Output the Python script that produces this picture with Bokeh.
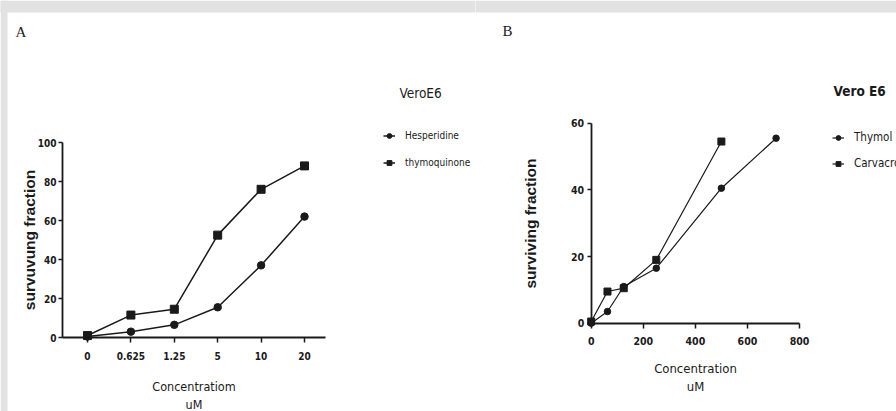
from bokeh.plotting import figure
from bokeh.models import Legend, LegendItem, Label, Range1d, FixedTicker, BoxAnnotation
from bokeh.layouts import row
from bokeh.embed import file_html
from bokeh.resources import INLINE

# ---- Panel A data ----
conc_a = ["0", "0.625", "1.25", "5", "10", "20"]
hesperidine = [0.5, 3, 6.5, 15.5, 37, 62]
thymoquinone = [1, 11.5, 14.5, 52.5, 76, 88]
ticks_a_y = [0, 20, 40, 60, 80, 100]

# ---- Panel B data ----
conc_thymol = [0, 62.5, 125, 250, 500, 710]
thymol = [0, 3.5, 11, 16.5, 40.5, 55.5]
conc_carvacrol = [0, 62.5, 125, 250, 500]
carvacrol = [0.5, 9.5, 10.5, 19, 54.5]
ticks_b_x = [0, 200, 400, 600, 800]
ticks_b_y = [0, 20, 40, 60]

NARROW = "DejaVu Sans Condensed, Liberation Sans, sans-serif"
SANS = "Liberation Sans, Arial, sans-serif"
SERIF = "Liberation Serif, serif"
INK = "#1a1a1a"
BAND = "#e2e2e2"

H = 411          # canvas height
WA, WB = 475, 421


def lin(pa, va, pb, vb):
    """linear map pixel->value from two anchor points"""
    k = (vb - va) / (pb - pa)
    return lambda px: va + (px - pa) * k


def style_axes(p, tick_size):
    for ax in (p.xaxis[0], p.yaxis[0]):
        ax.axis_line_color = INK
        ax.axis_line_width = 1.8
        ax.major_tick_line_color = INK
        ax.major_tick_line_width = 1.5
        ax.major_tick_in = 0
        ax.minor_tick_line_color = None
        ax.major_label_text_font = NARROW
        ax.major_label_text_font_style = "bold"
        ax.major_label_text_font_size = tick_size
        ax.major_label_text_color = INK
        ax.axis_label_text_color = INK
    p.xaxis.axis_label_text_font = NARROW
    p.xaxis.axis_label_text_font_style = "normal"
    p.xaxis.axis_label_text_font_size = "13px"
    p.yaxis.axis_label_text_font = SANS
    p.yaxis.axis_label_text_font_style = "bold"
    p.yaxis.axis_label_text_font_size = "15.5px"
    p.xgrid.grid_line_color = None
    p.ygrid.grid_line_color = None
    p.outline_line_color = None
    p.min_border_left = p.min_border_right = p.min_border_top = p.min_border_bottom = 0
    p.background_fill_color = "white"
    p.border_fill_color = "white"


def add_legend(p, items, left, first_center, gap, standoff, font_size):
    # legend tuple location is the legend's bottom-left corner, measured from frame bottom-left
    gh = 15
    n = len(items)
    total_h = n * gh + (n - 1) * gap
    top = first_center - gh / 2
    leg = Legend(items=items, location=(left, H - top - total_h), border_line_color=None,
                 background_fill_alpha=0, padding=0, margin=0, spacing=gap, glyph_width=12,
                 glyph_height=gh, label_height=gh, label_standoff=standoff,
                 label_text_font=NARROW, label_text_font_size=font_size, label_text_color=INK)
    p.add_layout(leg, "center")


# ================= Panel A =================
idx_a = list(range(len(conc_a)))
fxA = lin(87, 0, 304, 5)
fyA = lin(337, 0, 142, 100)
pA = figure(width=WA, height=H, output_backend="svg", toolbar_location=None,
            x_range=Range1d(fxA(0), fxA(WA)), y_range=Range1d(fyA(H), fyA(0)))
style_axes(pA, "10px")
pA.xaxis.ticker = FixedTicker(ticks=idx_a)
pA.xaxis.major_label_overrides = {i: s for i, s in zip(idx_a, conc_a)}
pA.yaxis.ticker = FixedTicker(ticks=ticks_a_y)
pA.xaxis.fixed_location = 0
pA.yaxis.fixed_location = fxA(62)
pA.xaxis.bounds = (fxA(62), fxA(325))
pA.yaxis.bounds = (0, 100)
pA.xaxis.major_tick_out = 5
pA.yaxis.major_tick_out = 4
pA.xaxis.major_label_standoff = 9
pA.yaxis.major_label_standoff = 2
pA.xaxis.axis_label = "Concentratiom\nuM"
pA.xaxis.axis_label_text_font_size = "12.5px"
pA.xaxis.axis_label_standoff = 16
pA.yaxis.axis_label = "survuvung fraction"
pA.yaxis.axis_label_standoff = -3

pA.add_layout(BoxAnnotation(bottom=fyA(12), left=fxA(-4), right=fxA(WA + 4), fill_color=BAND,
                            fill_alpha=1, line_color=None, level="underlay"))
pA.add_layout(BoxAnnotation(right=fxA(7), fill_color=BAND, fill_alpha=1, line_color=None, level="underlay"))

lh1 = pA.line(idx_a, hesperidine, line_color=INK, line_width=1.5)
sh1 = pA.scatter(idx_a, hesperidine, marker="circle", size=7.5, color=INK)
lt1 = pA.line(idx_a, thymoquinone, line_color=INK, line_width=1.5)
st1 = pA.scatter(idx_a, thymoquinone, marker="square", size=8, color=INK)

add_legend(pA, [LegendItem(label="Hesperidine", renderers=[lh1, sh1]),
                LegendItem(label="thymoquinone", renderers=[lt1, st1])],
           left=383, first_center=135, gap=12, standoff=10, font_size="10px")
pA.add_layout(Label(x=399, y=H - 92, x_units="screen", y_units="screen", text="VeroE6",
                    text_font=NARROW, text_font_size="13.5px", text_baseline="middle",
                    text_color=INK))
pA.add_layout(Label(x=15, y=H - 31, x_units="screen", y_units="screen", text="A",
                    text_font=SERIF, text_font_size="15px",
                    text_baseline="middle", text_color=INK))

# ================= Panel B =================
fxB = lin(590.7 - WA, 0, 799 - WA, 800)
fyB = lin(322.7, 0, 122.7, 60)
pB = figure(width=WB, height=H, output_backend="svg", toolbar_location=None,
            x_range=Range1d(fxB(0), fxB(WB)), y_range=Range1d(fyB(H), fyB(0)))
style_axes(pB, "10.5px")
pB.xaxis.ticker = FixedTicker(ticks=ticks_b_x)
pB.yaxis.ticker = FixedTicker(ticks=ticks_b_y)
pB.xaxis.fixed_location = 0
pB.yaxis.fixed_location = 0
pB.xaxis.bounds = (0, 800)
pB.yaxis.bounds = (0, 60)
pB.xaxis.major_tick_out = 5
pB.yaxis.major_tick_out = 4
pB.xaxis.major_label_standoff = 9
pB.yaxis.major_label_standoff = 3
pB.xaxis.axis_label = "Concentration\nuM"
pB.xaxis.axis_label_standoff = 12
pB.yaxis.axis_label = "surviving fraction"
pB.yaxis.axis_label_standoff = 29

pB.add_layout(BoxAnnotation(bottom=fyB(12), left=fxB(-4), right=fxB(WB + 4), fill_color=BAND,
                            fill_alpha=1, line_color=None, level="underlay"))

lt2 = pB.line(conc_thymol, thymol, line_color=INK, line_width=1.2)
st2 = pB.scatter(conc_thymol, thymol, marker="circle", size=6.5, color=INK)
lc2 = pB.line(conc_carvacrol, carvacrol, line_color=INK, line_width=1.2)
sc2 = pB.scatter(conc_carvacrol, carvacrol, marker="square", size=7, color=INK)

add_legend(pB, [LegendItem(label="Thymol", renderers=[lt2, st2]),
                LegendItem(label="Carvacrol", renderers=[lc2, sc2])],
           left=832 - WA, first_center=137, gap=11, standoff=10, font_size="11.5px")
pB.add_layout(Label(x=833 - WA, y=H - 90, x_units="screen", y_units="screen", text="Vero E6",
                    text_font=NARROW, text_font_size="13.5px", text_font_style="bold",
                    text_baseline="middle", text_color=INK))
pB.add_layout(Label(x=502 - WA, y=H - 30, x_units="screen", y_units="screen", text="B",
                    text_font=SERIF, text_font_size="15px",
                    text_baseline="middle", text_color=INK))

layout = row(pA, pB)
open("out.html", "w").write(file_html(layout, INLINE))
